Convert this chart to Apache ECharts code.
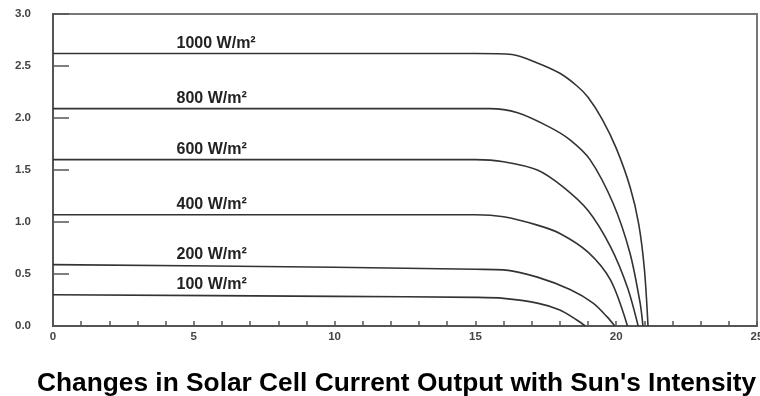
<!DOCTYPE html>
<html>
<head>
<meta charset="utf-8">
<script src="https://cdn.jsdelivr.net/npm/echarts@6/dist/echarts.min.js"></script>
<style>
  html, body {margin: 0; padding: 0; background: #fff;}
  #chart {width: 760px; height: 396px;}
</style>
</head>
<body>
<div id="chart"></div>
<script>
// voltage (V) / current (A), one pair of arrays per curve
const irradiance = ['1000', '800', '600', '400', '200', '100'];

const volt1000 = [0, 15, 16.3, 17.2, 18.0, 18.6, 19.0, 19.5, 20.0, 20.5, 20.8, 21.0, 21.13];
const amp1000 = [2.62, 2.62, 2.61, 2.53, 2.43, 2.31, 2.20, 1.99, 1.71, 1.33, 0.98, 0.55, 0];
const volt800 = [0, 15.5, 16.5, 17.65, 18.36, 19.07, 19.89, 20.49, 20.85, 20.95];
const amp800 = [2.09, 2.09, 2.05, 1.91, 1.79, 1.60, 1.18, 0.70, 0.22, 0];
const volt600 = [0, 15, 16, 17.2, 18.1, 19.0, 19.8, 20.4, 20.78];
const amp600 = [1.60, 1.60, 1.58, 1.50, 1.34, 1.11, 0.76, 0.37, 0];
const volt400 = [0, 15, 16, 17.2, 18.0, 19.0, 19.8, 20.4];
const amp400 = [1.07, 1.07, 1.05, 0.97, 0.89, 0.71, 0.44, 0];
const volt200 = [0, 10, 15, 16, 17.2, 18.36, 19.18, 19.67, 19.95];
const amp200 = [0.59, 0.565, 0.545, 0.54, 0.47, 0.35, 0.22, 0.09, 0];
const volt100 = [0, 10, 15, 16, 17.2, 18.0, 18.6, 18.9];
const amp100 = [0.30, 0.285, 0.275, 0.266, 0.22, 0.154, 0.058, 0];

const volts = [volt1000, volt800, volt600, volt400, volt200, volt100];
const amps = [amp1000, amp800, amp600, amp400, amp200, amp100];
const labelX = 4.37;

const xTicks = [0, 5, 10, 15, 20, 25];
const yTicks = [0, 0.5, 1.0, 1.5, 2.0, 2.5, 3.0];

const myChart = echarts.init(document.getElementById('chart'));

const series = irradiance.map((name, i) => ({
  name: name + ' W/m²',
  type: 'line',
  smooth: 0.3,
  symbol: 'none',
  lineStyle: {color: '#333', width: 1.6},
  data: volts[i].map((v, j) => [v, amps[i][j]]),
  markPoint: {
    symbol: 'circle',
    symbolSize: 1,
    itemStyle: {color: 'transparent'},
    label: {
      show: true,
      position: 'right',
      distance: 0,
      offset: [0, -10],
      formatter: name + ' W/m²',
      color: '#222',
      fontFamily: 'Arial, Liberation Sans',
      fontWeight: 'bold',
      fontSize: 16
    },
    data: [{coord: [labelX, amps[i][0]]}]
  }
}));

myChart.setOption({
  animation: false,
  title: {
    text: "Changes in Solar Cell Current Output with Sun's Intensity",
    left: 32,
    top: 366,
    textStyle: {fontFamily: 'Arial, Liberation Sans', fontWeight: 'bold', fontSize: 26.3, color: '#000'}
  },
  grid: {
    left: 53, right: 3, top: 14, bottom: 70,
    outerBoundsMode: 'none',
    show: true,
    borderColor: '#777',
    borderWidth: 2
  },
  xAxis: {
    type: 'value',
    min: xTicks[0],
    max: xTicks[xTicks.length - 1],
    interval: 5,
    splitLine: {show: false},
    axisLine: {lineStyle: {color: '#555', width: 2}},
    axisTick: {inside: true, length: 5, lineStyle: {color: '#555', width: 1.5}},
    minorTick: {show: true, splitNumber: 5, length: 5, lineStyle: {color: '#555', width: 1.5}},
    axisLabel: {color: '#444', fontWeight: 'bold', fontSize: 11.5, margin: 5, fontFamily: 'Arial, Liberation Sans'}
  },
  yAxis: {
    type: 'value',
    min: yTicks[0],
    max: yTicks[yTicks.length - 1],
    interval: 0.5,
    splitLine: {show: false},
    axisLine: {show: true, lineStyle: {color: '#555', width: 2}},
    axisTick: {show: true, inside: true, length: 16, lineStyle: {color: '#555', width: 1.5}},
    axisLabel: {
      color: '#444', fontWeight: 'bold', fontSize: 11.5, margin: 22,
      fontFamily: 'Arial, Liberation Sans',
      formatter: val => Number(val).toFixed(1)
    }
  },
  series
});
</script>
</body>
</html>
